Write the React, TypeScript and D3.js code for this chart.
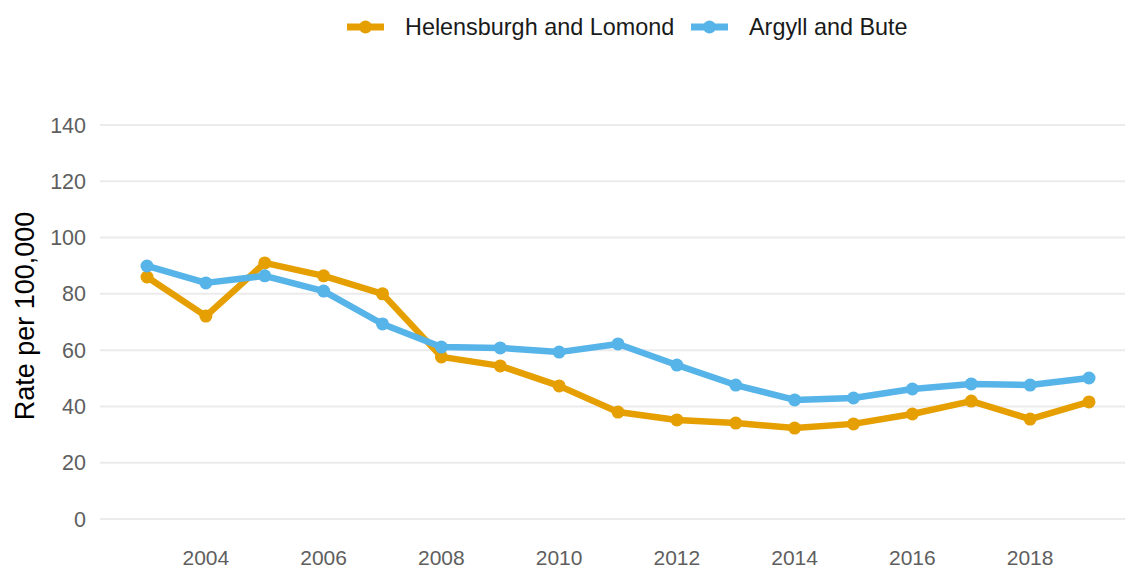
import React from "react";
import * as d3 from "d3";

const years = [2003, 2004, 2005, 2006, 2007, 2008, 2009, 2010, 2011, 2012, 2013, 2014, 2015, 2016, 2017, 2018, 2019];
const helensburgh = [86.0, 72.1, 91.0, 86.4, 80.0, 57.6, 54.4, 47.3, 38.0, 35.2, 34.1, 32.3, 33.8, 37.3, 41.9, 35.5, 41.6];
const argyll = [89.9, 83.9, 86.4, 81.0, 69.3, 61.1, 60.8, 59.3, 62.2, 54.7, 47.6, 42.3, 43.0, 46.2, 48.0, 47.6, 50.1];
const yTicks = [0, 20, 40, 60, 80, 100, 120, 140];
const xTicks = [2004, 2006, 2008, 2010, 2012, 2014, 2016, 2018];
const seriesNames = ["Helensburgh and Lomond", "Argyll and Bute"];
const colors = ["#E69F00", "#56B4E9"];

export default function App() {
  const W = 1125, H = 571;
  const x = d3.scaleLinear().domain([2003, 2019]).range([147, 1089]);
  const y = d3.scaleLinear().domain([0, 140]).range([519, 125]);
  const line = d3.line<number>().x((_, i) => x(years[i])).y((d) => y(d));
  const series = [helensburgh, argyll];
  const font = "'Liberation Sans', Arial, sans-serif";
  const legendX = [347, 691];
  return (
    <svg width={W} height={H} style={{ position: "absolute", left: 0, top: 0, background: "#fff" }} fontFamily={font}>
      {yTicks.map((t) => (
        <g key={t}>
          <line x1={100} x2={1125} y1={y(t)} y2={y(t)} stroke="#ebebeb" strokeWidth={2} />
          <text x={86} y={y(t)} dy="0.35em" textAnchor="end" fontSize={21.5} fill="#5e5e5e">{t}</text>
        </g>
      ))}
      {xTicks.map((t) => (
        <text key={t} x={x(t)} y={565} textAnchor="middle" fontSize={21} fill="#5e5e5e">{t}</text>
      ))}
      <text transform={`translate(34,316) rotate(-90)`} textAnchor="middle" fontSize={27} fill="#000">Rate per 100,000</text>
      {series.map((s, si) => (
        <g key={si}>
          <path d={line(s) || ""} fill="none" stroke={colors[si]} strokeWidth={6.5} strokeLinejoin="round" />
          {s.map((v, i) => (
            <circle key={i} cx={x(years[i])} cy={y(v)} r={6.5} fill={colors[si]} />
          ))}
        </g>
      ))}
      {seriesNames.map((n, i) => (
        <g key={n}>
          <line x1={legendX[i]} x2={legendX[i] + 37} y1={27} y2={27} stroke={colors[i]} strokeWidth={7} />
          <circle cx={legendX[i] + 18.5} cy={27} r={6.5} fill={colors[i]} />
          <text x={legendX[i] + 58} y={27} dy="0.35em" fontSize={23.4} fill="#1a1a1a">{n}</text>
        </g>
      ))}
    </svg>
  );
}
